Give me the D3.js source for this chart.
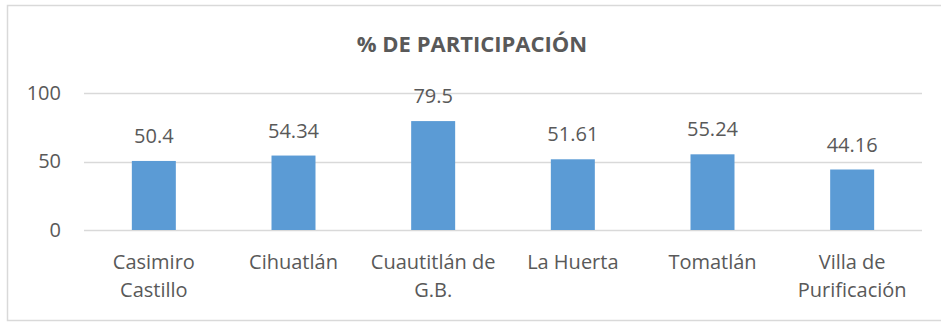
<!DOCTYPE html>
<html>
<head>
<meta charset="utf-8">
<script src="https://cdn.jsdelivr.net/npm/d3@7"></script>
<style>
  html, body { margin: 0; padding: 0; background: #fff; }
  svg { display: block; }
  text { font-family: "Open Sans", sans-serif; fill: #595959; }
</style>
</head>
<body>
<svg id="chart" width="941" height="322"></svg>
<script>
// Participation percentage by municipality
const categories = [
  ["Casimiro", "Castillo"],
  ["Cihuatlán"],
  ["Cuautitlán de", "G.B."],
  ["La Huerta"],
  ["Tomatlán"],
  ["Villa de", "Purificación"]
];
const values = [50.4, 54.34, 79.5, 51.61, 55.24, 44.16];
const valueLabels = ["50.4", "54.34", "79.5", "51.61", "55.24", "44.16"];
const yTicks = [0, 50, 100];
const title = "% DE PARTICIPACIÓN";

const svg = d3.select("#chart");

// chart frame
svg.append("rect")
  .attr("x", 7.5).attr("y", 5.5)
  .attr("width", 945).attr("height", 315)
  .attr("fill", "none")
  .attr("stroke", "#d9d9d9")
  .attr("stroke-width", 1.5);

const plot = { left: 84, right: 922, top: 93, bottom: 230 };

const x = d3.scaleBand()
  .domain(d3.range(categories.length))
  .range([plot.left, plot.right])
  .paddingInner(0.685)
  .paddingOuter(0.3425);

const y = d3.scaleLinear()
  .domain([0, 100])
  .range([plot.bottom, plot.top]);

// title
svg.append("text")
  .attr("x", 472)
  .attr("y", 52)
  .attr("text-anchor", "middle")
  .style("font-size", "22px")
  .style("font-weight", "bold")
  .text(title);

// gridlines
svg.append("g")
  .selectAll("line")
  .data(yTicks)
  .join("line")
  .attr("x1", plot.left)
  .attr("x2", plot.right)
  .attr("y1", d => Math.round(y(d)) + 0.5)
  .attr("y2", d => Math.round(y(d)) + 0.5)
  .attr("stroke", "#d9d9d9")
  .attr("stroke-width", 1.5);

// y axis labels
const yAxis = d3.axisLeft(y).tickValues(yTicks).tickSize(0).tickPadding(0);
const gy = svg.append("g")
  .attr("transform", `translate(${61},0)`)
  .call(yAxis);
gy.select(".domain").remove();
gy.selectAll("text")
  .style("font-size", "20px")
  .style("font-family", "'Open Sans', sans-serif")
  .attr("fill", "#595959");

// bars
svg.append("g")
  .selectAll("rect")
  .data(values)
  .join("rect")
  .attr("x", (d, i) => x(i))
  .attr("width", x.bandwidth())
  .attr("y", d => y(d))
  .attr("height", d => y(0) - y(d))
  .attr("fill", "#5b9bd5");

// value labels
svg.append("g")
  .selectAll("text")
  .data(values)
  .join("text")
  .attr("x", (d, i) => x(i) + x.bandwidth() / 2)
  .attr("y", d => y(d) - 18)
  .attr("text-anchor", "middle")
  .style("font-size", "20px")
  .text((d, i) => valueLabels[i]);

// category labels
const cat = svg.append("g")
  .selectAll("text")
  .data(categories)
  .join("text")
  .attr("x", (d, i) => x(i) + x.bandwidth() / 2)
  .attr("y", 269)
  .attr("text-anchor", "middle")
  .style("font-size", "20px");
cat.selectAll("tspan")
  .data(d => d)
  .join("tspan")
  .attr("x", function () { return d3.select(this.parentNode).attr("x"); })
  .attr("dy", (d, j) => j === 0 ? 0 : 28)
  .text(d => d);
</script>
</body>
</html>
